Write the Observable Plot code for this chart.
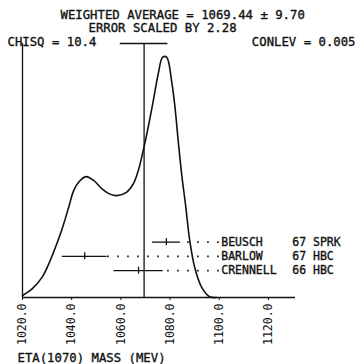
<!DOCTYPE html>
<html><head><meta charset="utf-8">
<script src="https://cdn.jsdelivr.net/npm/d3@7"></script>
<script src="https://cdn.jsdelivr.net/npm/@observablehq/plot@0.6"></script>
<style>
html,body{margin:0;padding:0;background:#fff}
svg text{font-family:'DejaVu Sans Mono',monospace}
</style></head><body><div id="chart"></div>
<script>
// Ideogram curve (arbitrary units)
const massGrid = [1020, 1023.9, 1028, 1030.7, 1033.4, 1036.1, 1038.8, 1040.8, 1042.8, 1045.8, 1048.9, 1052.3, 1055.6, 1058.5, 1062.4, 1065.1, 1067.1, 1069.1, 1071.1, 1073.2, 1075.2, 1077, 1078.6, 1080.6, 1082, 1083.3, 1084.7, 1086.4, 1088, 1090, 1092.8, 1096.1, 1099];
const ideogram = [0.008, 0.034, 0.080, 0.133, 0.198, 0.270, 0.356, 0.421, 0.454, 0.476, 0.461, 0.428, 0.407, 0.401, 0.415, 0.448, 0.500, 0.579, 0.670, 0.776, 0.881, 0.946, 0.946, 0.854, 0.749, 0.618, 0.487, 0.356, 0.224, 0.119, 0.041, 0.003, 0];

// Measurements
const experiments = ["BEUSCH", "BARLOW", "CRENNELL"];
const years = ["67", "67", "66"];
const techniques = ["SPRK", "HBC", "HBC"];
const masses = [1078.5, 1045.3, 1067.2];
const errors = [5.7, 9.1, 10.0];

// Summary
const weightedAverage = 1069.44;
const weightedError = 9.70;
const scaleFactor = 2.28;
const chisq = 10.4;
const conlev = 0.005;

const xTicks = [1020, 1040, 1060, 1080, 1100, 1120];
const xLabel = "ETA(1070) MASS (MEV)";

const curve = massGrid.map((m, i) => ({m, v: ideogram[i]}));
const rowTop = 0.218, rowStep = 0.056, labelX = 1100;
const rows = experiments.map((e, i) => ({
  name: e, tag: years[i] + " " + techniques[i],
  m: masses[i], err: errors[i], y: rowTop - i * rowStep
}));

const ink = "#111";
const fs = 12.3;
const txt = {fill: ink, stroke: ink, strokeWidth: 0.35};

const chart = Plot.plot({
  width: 357, height: 364,
  marginLeft: 22, marginRight: 62, marginTop: 43, marginBottom: 67,
  style: {background: "#fff", color: ink, fontFamily: "'DejaVu Sans Mono', monospace", overflow: "visible"},
  x: {domain: [1020, 1131]},
  y: {domain: [0, 1], axis: null},
  marks: [
    Plot.axisX({ticks: xTicks, tickFormat: d => d.toFixed(1), tickRotate: -90, tickSize: 3, tickPadding: 3, fontSize: 11.5, label: null, stroke: ink}),
    Plot.ruleY([0], {stroke: ink, strokeWidth: 1.3}),
    Plot.ruleX([1020], {y1: 0, y2: 1, stroke: ink, strokeWidth: 1.3}),
    Plot.ruleX([weightedAverage], {y1: 0, y2: 1, stroke: ink, strokeWidth: 1.3}),
    Plot.ruleY([1], {x1: weightedAverage - weightedError, x2: weightedAverage + weightedError, stroke: ink, strokeWidth: 1.3}),
    Plot.line(curve, {x: "m", y: "v", curve: "catmull-rom", stroke: ink, strokeWidth: 1.6}),
    Plot.ruleY(rows, {y: "y", x1: d => d.m - d.err, x2: d => d.m + d.err, stroke: ink, strokeWidth: 1.3}),
    Plot.ruleX(rows, {x: "m", y1: "y", y2: "y", insetTop: -3.5, insetBottom: -3.5, stroke: ink, strokeWidth: 1.3}),
    Plot.ruleY(rows, {y: "y", x1: labelX, x2: d => d.m + d.err, stroke: ink, strokeWidth: 1.6, strokeDasharray: "1.6,8.4"}),
    Plot.text(rows, {x: labelX, y: "y", text: "name", textAnchor: "start", dx: 2, fontSize: 11.5, ...txt}),
    Plot.text(rows, {x: labelX, y: "y", text: "tag", textAnchor: "start", dx: 73, fontSize: 11.5, ...txt}),
    Plot.text([`WEIGHTED AVERAGE = ${weightedAverage.toFixed(2)} ± ${weightedError.toFixed(2)}`], {frameAnchor: "top-left", textAnchor: "start", lineAnchor: "bottom", dx: 38, dy: -24.5, fontSize: fs, ...txt}),
    Plot.text([`ERROR SCALED BY ${scaleFactor.toFixed(2)}`], {frameAnchor: "top-left", textAnchor: "start", lineAnchor: "bottom", dx: 66, dy: -12, fontSize: fs, ...txt}),
    Plot.text([`CHISQ = ${chisq}`], {frameAnchor: "top-left", textAnchor: "start", lineAnchor: "bottom", dx: -15, dy: 2, fontSize: fs, ...txt}),
    Plot.text([`CONLEV = ${conlev}`], {frameAnchor: "top-right", textAnchor: "end", lineAnchor: "bottom", dx: 60, dy: 2, fontSize: fs, ...txt}),
    Plot.text([xLabel], {frameAnchor: "bottom-left", textAnchor: "start", lineAnchor: "bottom", dx: -5, dy: 64, fontSize: fs, ...txt})
  ]
});
document.getElementById("chart").appendChild(chart);
</script>
</body></html>
